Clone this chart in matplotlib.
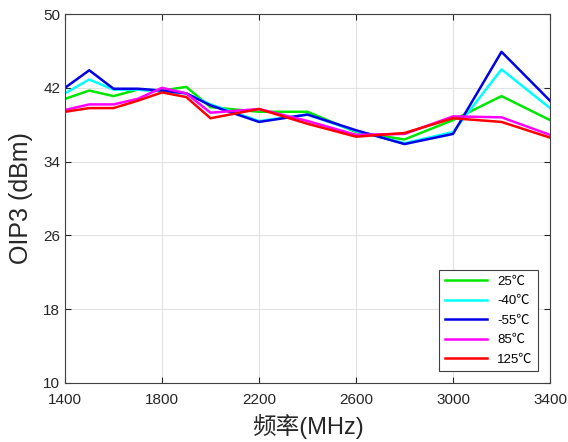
import matplotlib.pyplot as plt
import numpy as np

plt.rcParams['font.family'] = ['Liberation Sans', 'Noto Sans CJK SC', 'DejaVu Sans']

# frequency points (MHz)
freq = [1400, 1500, 1600, 1700, 1800, 1900, 2000, 2200, 2400, 2600, 2800, 3000, 3200, 3400]

# OIP3 (dBm)
oip3_25 = [40.8, 41.7, 41.1, 41.8, 41.7, 42.1, 39.9, 39.4, 39.4, 37.2, 36.4, 38.5, 41.1, 38.5]
oip3_m40 = [41.4, 42.9, 41.8, 41.8, 41.6, 41.4, 40.2, 38.4, 39.1, 37.3, 36.0, 37.2, 44.0, 39.8]
oip3_m55 = [42.0, 43.9, 41.9, 41.9, 41.7, 41.4, 40.1, 38.3, 39.1, 37.4, 35.9, 37.0, 45.9, 40.6]
oip3_85 = [39.6, 40.2, 40.2, 40.8, 42.0, 41.4, 39.3, 39.7, 38.4, 36.9, 37.0, 38.9, 38.8, 36.9]
oip3_125 = [39.4, 39.8, 39.8, 40.6, 41.5, 41.0, 38.7, 39.7, 38.1, 36.7, 37.1, 38.7, 38.3, 36.6]

labels = ['25℃', '-40℃', '-55℃', '85℃', '125℃']
colors = ['#00e600', '#00ffff', '#0000e6', '#ff00ff', '#ff0000']
series = [oip3_25, oip3_m40, oip3_m55, oip3_85, oip3_125]

fig = plt.figure(figsize=(5.68, 4.42), dpi=100)
ax = fig.add_axes([65/568, 1 - 383/442, 485/568, 369/442])

for s, c, lab in zip(series, colors, labels):
    ax.plot(freq, s, color=c, lw=1.8, label=lab)

ax.set_xlim(1400, 3400)
ax.set_ylim(10, 50)
ax.set_xticks(np.arange(1400, 3401, 400))
ax.set_yticks(np.arange(10, 51, 8))
ax.grid(True, color='#e3e3e3', lw=0.8)
ax.set_axisbelow(True)
ax.tick_params(direction='in', top=True, right=True, labelsize=11, colors='#262626', length=4)
ax.tick_params(axis='x', pad=7)
for sp in ax.spines.values():
    sp.set_color('#404040')
    sp.set_linewidth(0.8)

ax.set_xlabel('频率(MHz)', fontsize=17, color='#262626')
ax.xaxis.set_label_coords(0.5, -0.083)
ax.set_ylabel('OIP3 (dBm)', fontsize=18, color='#262626')
ax.yaxis.set_label_coords(-0.066, 0.5)

leg = ax.legend(loc='lower right', fontsize=9.5, handlelength=3.2, fancybox=False,
                edgecolor='#404040', framealpha=1, borderaxespad=0.9, labelspacing=0.55)
leg.get_frame().set_linewidth(0.8)

plt.savefig('out.png', dpi=100)
